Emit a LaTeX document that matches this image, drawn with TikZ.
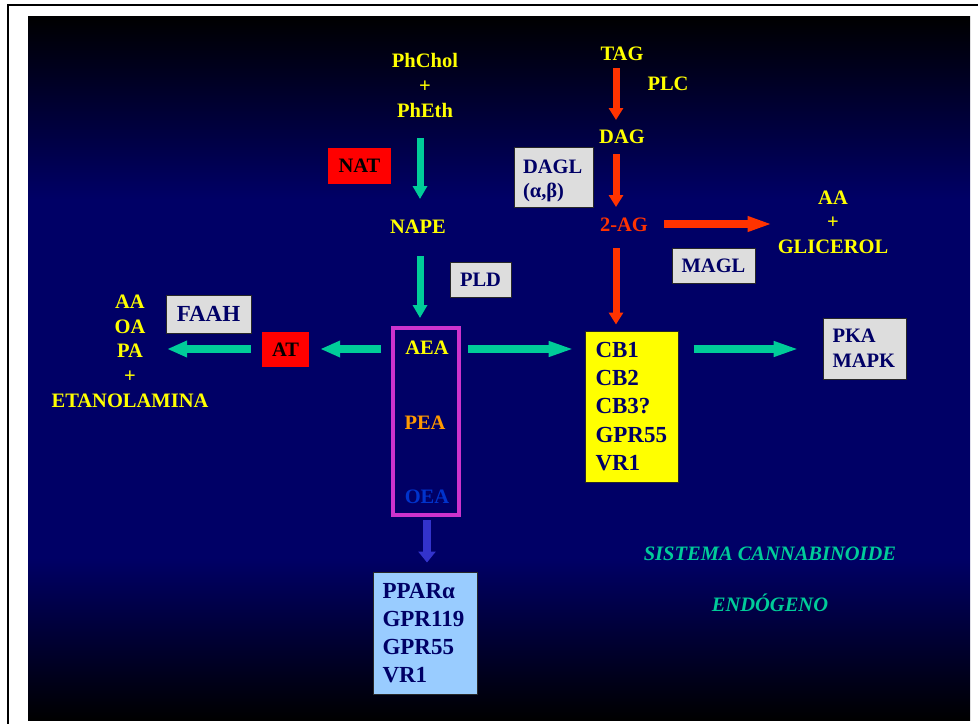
\documentclass[tikz,border=0pt]{standalone}
\usepackage{fontspec}
\setmainfont{Liberation Serif}
\usetikzlibrary{arrows.meta,calc}
\definecolor{navybg}{RGB}{0,0,102}
\definecolor{yel}{RGB}{255,255,0}
\definecolor{peacol}{RGB}{255,153,0}
\definecolor{oeacol}{RGB}{0,51,204}
\definecolor{magcol}{RGB}{204,51,204}
\definecolor{boxgray}{RGB}{221,221,221}
\definecolor{boxedge}{RGB}{40,40,40}
\definecolor{txtnavy}{RGB}{0,0,102}
\definecolor{arrgreen}{RGB}{0,204,153}
\definecolor{arrred}{RGB}{255,51,0}
\definecolor{arrblue}{RGB}{51,51,204}
\definecolor{ltblue}{RGB}{153,204,255}
\definecolor{redfill}{RGB}{255,0,0}
\pgfdeclareverticalshading{bgshade}{100bp}{color(0bp)=(black); color(25bp)=(black); color(36.5bp)=(navybg); color(62bp)=(navybg); color(75bp)=(black); color(100bp)=(black)}
\newcommand\fntmain{\fontsize{20.5}{25}\selectfont\bfseries}
\newcommand\fntbig{\fontsize{23}{28.25}\selectfont\bfseries}
\tikzset{
  every node/.style={inner sep=0pt},
  ytxt/.style={font=\fntmain, text=yel, text height=13.6pt, text depth=0pt},
  graybox/.style={fill=boxgray, draw=boxedge, line width=1pt, text=txtnavy, font=\fntmain, text height=13.6pt, text depth=0pt},
  redbox/.style={fill=redfill, text=black, font=\fntmain, text height=13.6pt, text depth=0pt},
  listbox/.style={draw=boxedge, line width=1pt, text=txtnavy, align=left},
  garrow/.style={draw=arrgreen, line width=7pt, -{Triangle[width=14pt,length=13pt]}},
  garrowh/.style={draw=arrgreen, line width=7.3pt, -{Triangle[width=14pt,length=26pt]}},
  garrowl/.style={draw=arrgreen, line width=8pt, -{Triangle[width=15.5pt,length=20pt]}},
  rarrow/.style={draw=arrred, line width=7pt, -{Triangle[width=14pt,length=12pt]}},
  rarrowh/.style={draw=arrred, line width=7.7pt, -{Triangle[width=14pt,length=25pt]}},
  barrow/.style={draw=arrblue, line width=8.3pt, -{Triangle[width=17pt,length=11pt]}},
  ttl/.style={font=\fontsize{20.5}{25}\selectfont\bfseries\itshape, text=arrgreen, text height=13.6pt, text depth=0pt}
}
\begin{document}
\begin{tikzpicture}[x=1pt,y=-1pt]
\useasboundingbox (0,0) rectangle (978,724);
\fill[white] (0,0) rectangle (978,724);
\draw[black, line width=2pt] (978,5) -- (8,5) -- (8,724);
\shade[shading=bgshade] (28,16) rectangle (970,720);

% phospholipid branch
\node[ytxt] (phchol) at (425,61) {PhChol};
\node[ytxt] (plus1) at (425,86) {+};
\node[ytxt] (pheth) at (425,111) {PhEth};
\node[redbox, minimum width=63pt, minimum height=36pt] (nat) at (359.5,166) {NAT};
\node[ytxt] (nape) at (418,227) {NAPE};
\node[graybox, minimum width=61pt, minimum height=35pt] (pld) at (480.5,279.5) {PLD};

% ethanolamide box
\node[draw=magcol, line width=4pt, minimum width=66pt, minimum height=187pt] (fam) at (426,421.5) {};
\node[ytxt] (aea) at (427,348) {AEA};
\node[ytxt, text=peacol] (pea) at (425,423) {PEA};
\node[ytxt, text=oeacol] (oea) at (427,497) {OEA};

\node[listbox, fill=ltblue, font=\fontsize{23}{28}\selectfont\bfseries, text width=85pt, inner xsep=9.5pt, minimum width=104pt, minimum height=122pt] (lb) at (425,633) {PPARα\\GPR119\\GPR55\\VR1};

% degradation (left)
\node[redbox, minimum width=47pt, minimum height=35pt] (at) at (285.5,349.5) {AT};
\node[graybox, font=\fntbig, text height=15.2pt, minimum width=85pt, minimum height=38pt] (faah) at (208.5,314) {FAAH};
\node[ytxt] (aa1) at (130,302) {AA};
\node[ytxt] (oa) at (130,327) {OA};
\node[ytxt] (pa) at (130,351) {PA};
\node[ytxt] (plus3) at (130,376) {+};
\node[ytxt] (etan) at (130,401) {ETANOLAMINA};

% receptors
\node[listbox, fill=yel, font=\fntbig, text width=72pt, inner xsep=10.5pt, minimum width=93pt, minimum height=151pt] (ybox) at (631.5,406.5) {CB1\\CB2\\CB3?\\GPR55\\VR1};
\node[listbox, fill=boxgray, font=\fntmain, text width=64pt, inner xsep=9.5pt, minimum width=83pt, minimum height=61pt] (pka) at (864.5,348.5) {PKA\\MAPK};

% 2-AG branch
\node[ytxt] (tag) at (622,54) {TAG};
\node[ytxt] (plc) at (668,84) {PLC};
\node[ytxt] (dag) at (622,137) {DAG};
\node[ytxt, text=arrred] (twoag) at (624,225) {2-AG};
\node[listbox, fill=boxgray, font=\fontsize{20.5}{24}\selectfont\bfseries, text width=61pt, inner xsep=9pt, minimum width=79pt, minimum height=60pt] (dagl) at (553.5,177) {\rule{0pt}{22pt}DAGL\\(α,β)};
\node[graybox, minimum width=83pt, minimum height=35pt] (magl) at (713.5,265.5) {MAGL};
\node[ytxt] (aa2) at (833,198) {AA};
\node[ytxt] (plus2) at (833,222) {+};
\node[ytxt] (glic) at (833,247) {GLICEROL};

% title
\node[ttl] (t1) at (770,554) {SISTEMA CANNABINOIDE};
\node[ttl] (t2) at (770,605) {ENDÓGENO};

% arrows
\draw[garrow] ($(pheth.south)+(-5,20)$) -- ($(nape.north)+(2,-21)$);
\draw[garrow] ($(nape.south)+(2,22)$) -- ($(fam.north)+(-6,-8)$);
\draw[garrowl] ($(fam.west |- aea)+(-10,1)$) -- ($(at.east)+(11,-0.5)$);
\draw[garrowl] ($(at.west)+(-11,-0.5)$) -- ($(pa.east)+(24,-2)$);
\draw[garrowh] ($(fam.east |- aea)+(7,1)$) -- ($(ybox.west |- aea)+(-10,1)$);
\draw[garrowh] ($(ybox.east |- aea)+(15,1)$) -- ($(pka.west |- aea)+(-23,1)$);
\draw[barrow] ($(fam.south)+(1,3)$) -- ($(lb.north)+(2,-9)$);
\draw[rarrow] ($(tag.south)+(-6,7)$) -- ($(dag.north)+(-6,-10)$);
\draw[rarrow] ($(dag.south)+(-6,10)$) -- ($(twoag.north)+(-8,-11)$);
\draw[rarrowh] ($(twoag.east)+(16,-1)$) -- ($(glic.west |- twoag)+(-5,-1)$);
\draw[rarrow] ($(twoag.south)+(-8,16)$) -- ($(ybox.north -| twoag)+(-8,-6)$);
\end{tikzpicture}
\end{document}
